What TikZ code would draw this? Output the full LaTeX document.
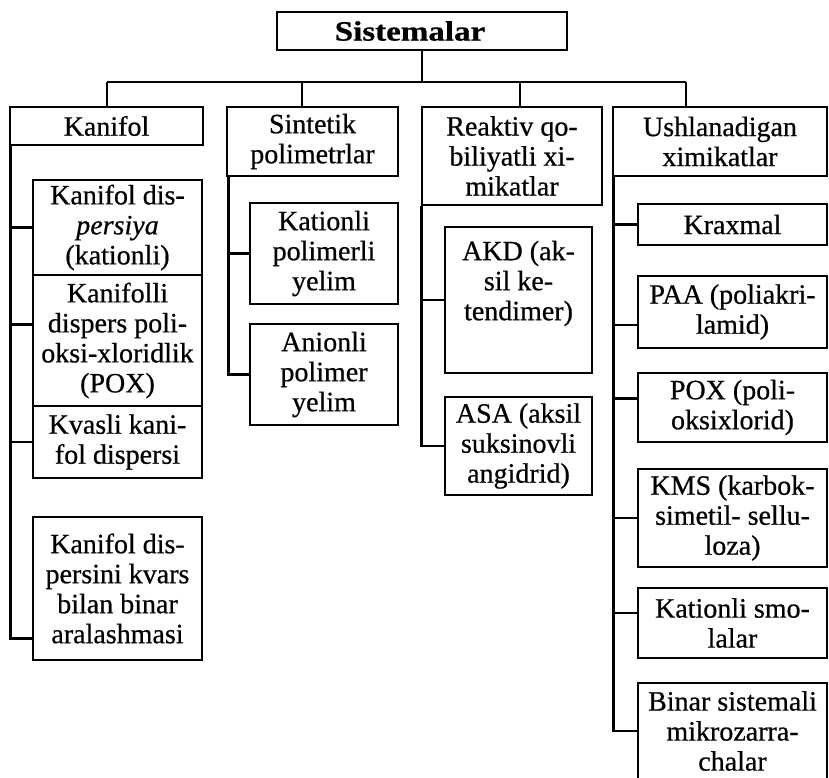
\documentclass[tikz,border=0pt]{standalone}
\usepackage{fontspec}
\setmainfont{Liberation Serif}[FakeBold=0.6]
\usepackage{graphicx}
\begin{document}
\begin{tikzpicture}[x=1pt,y=-1pt,
  box/.style={draw,line width=2.6pt,align=center,inner sep=0pt,font=\fontsize{28}{30}\selectfont},
  conn/.style={line width=2.6pt}]
\useasboundingbox (0,0) rectangle (829,777);
\clip (0,0) rectangle (829,777);
\fill[white] (0,0) rectangle (829,777);
% top
\node[box,minimum width=290pt,minimum height=38pt] (top) at (422,31) {\scalebox{1.18}[1]{\textbf{Sistemalar}}\hspace*{24pt}};
% headers
\node[box,minimum width=193pt,minimum height=38pt] (kh) at (106.5,126) {Kanifol};
\node[box,minimum width=171pt,minimum height=69pt] (sh) at (312.5,141.5) {Sintetik\\polimetrlar};
\node[box,minimum width=180pt,minimum height=98pt] (rh) at (512,156) {Reaktiv qo-\\biliyatli xi-\\mikatlar};
\node[box,minimum width=214pt,minimum height=69pt] (uh) at (720,141.5) {Ushlanadigan\\ximikatlar};
% bus
\coordinate (d1) at (107,82);
\coordinate (d2) at (302,82);
\coordinate (d3) at (520,82);
\coordinate (d4) at (686,82);
\draw[conn] (top.south) -- (top.south |- d1);
\draw[conn] (d1) -- (d4);
\draw[conn] (d1) -- (d1 |- kh.north);
\draw[conn] (d2) -- (d2 |- sh.north);
\draw[conn] (d3) -- (d3 |- rh.north);
\draw[conn] (d4) -- (d4 |- uh.north);
% column 1
\node[box,minimum width=169pt,minimum height=95pt] (k1) at (117.5,227.5) {Kanifol dis-\\\textit{persiya}\\(kationli)};
\node[box,minimum width=169pt,minimum height=131pt] (k2) at (117.5,340.5) {Kanifolli\\dispers poli-\\oksi-xloridlik\\(POX)};
\node[box,minimum width=169pt,minimum height=72pt] (k3) at (117.5,442) {Kvasli kani-\\fol dispersi};
\node[box,minimum width=169pt,minimum height=143pt] (k4) at (117.5,588.5) {Kanifol dis-\\persini kvars\\bilan binar\\aralashmasi};
\coordinate (kt) at ([xshift=2pt]kh.south west);
\coordinate (k2c) at ([yshift=16pt]k2.west);
\coordinate (k4c) at ([yshift=23pt]k4.south west);
\draw[conn] (kt) |- (k4c);
\draw[conn] (kt |- k1.west) -- (k1.west);
\draw[conn] (kt |- k2c) -- (k2c);
\draw[conn] (kt |- k3.west) -- (k3.west);
% column 2
\node[box,minimum width=148pt,minimum height=101pt] (s1) at (324,253.5) {Kationli\\polimerli\\yelim};
\node[box,minimum width=148pt,minimum height=101pt] (s2) at (324,374.5) {Anionli\\polimer\\yelim};
\coordinate (st) at ([xshift=3pt]sh.south west);
\draw[conn] (st) |- (s2.west);
\draw[conn] (st |- s1.west) -- (s1.west);
% column 3
\node[box,minimum width=147pt,minimum height=146pt] (r1) at (518.5,300) {AKD (ak-\\sil ke-\\tendimer)\\\strut};
\node[box,minimum width=147pt,minimum height=98pt] (r2) at (518.5,446) {ASA (aksil\\suksinovli\\angidrid)};
\coordinate (rt) at ([xshift=1pt]rh.south west);
\draw[conn] (rt) |- (r2.west);
\draw[conn] (rt |- r1.west) -- (r1.west);
% column 4
\node[box,minimum width=189pt,minimum height=41pt] (u1) at (732.5,224.5) {Kraxmal};
\node[box,minimum width=189pt,minimum height=72pt] (u2) at (732.5,312) {PAA (poliakri-\\lamid)};
\node[box,minimum width=189pt,minimum height=69pt] (u3) at (732.5,407.5) {POX (poli-\\oksixlorid)};
\node[box,minimum width=189pt,minimum height=98pt] (u4) at (732.5,518) {KMS (karbok-\\simetil- sellu-\\loza)};
\node[box,minimum width=189pt,minimum height=70pt] (u5) at (732.5,623) {Kationli smo-\\lalar};
\node[box,minimum width=189pt,minimum height=96pt] (u6) at (732.5,731) {Binar sistemali\\mikrozarra-\\chalar};
\coordinate (ut) at ([xshift=2pt]uh.south west);
\coordinate (u2c) at ([yshift=-13pt]u2.west);
\coordinate (u3c) at ([yshift=9pt]u3.west);
\coordinate (u5c) at ([yshift=10pt]u5.west);
\draw[conn] (ut) |- (u6.west);
\draw[conn] (ut |- u1.west) -- (u1.west);
\draw[conn] (ut |- u2c) -- (u2c);
\draw[conn] (ut |- u3c) -- (u3c);
\draw[conn] (ut |- u4.west) -- (u4.west);
\draw[conn] (ut |- u5c) -- (u5c);
\end{tikzpicture}
\end{document}
